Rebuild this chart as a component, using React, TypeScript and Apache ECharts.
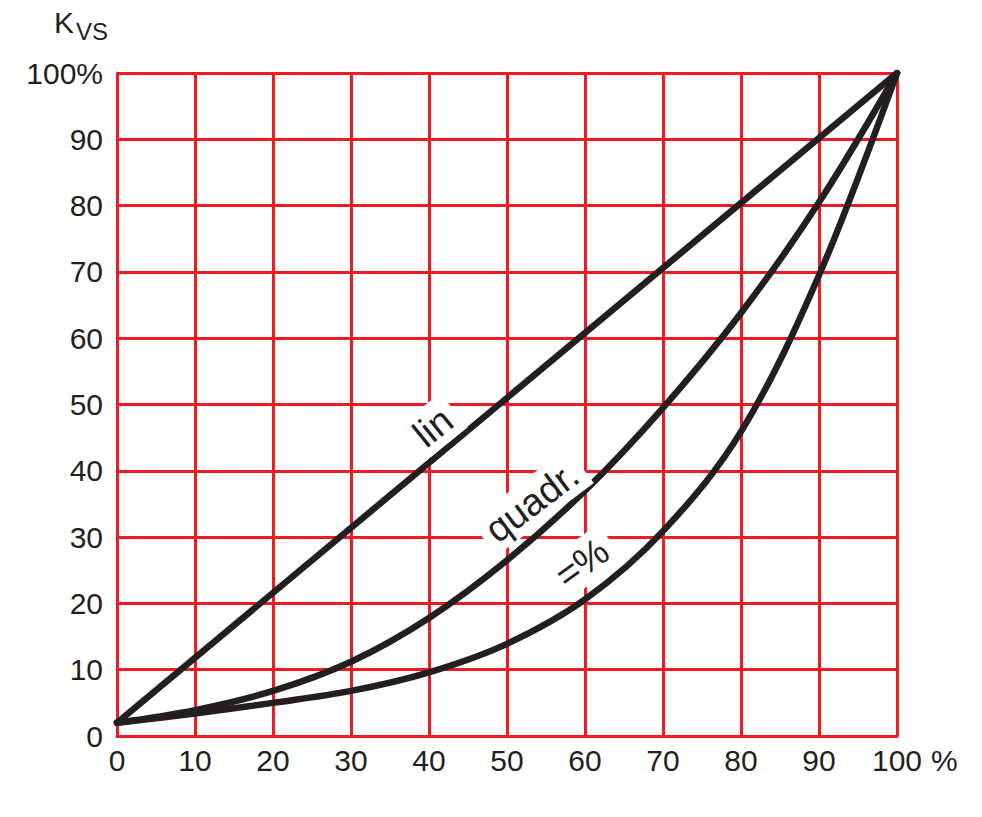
import React, { useEffect, useRef } from "react";
import * as echarts from "echarts";

const xTicks = [0, 10, 20, 30, 40, 50, 60, 70, 80, 90, 100];
const linValues = [2, 100];
const linX = [0, 100];
const quadrValues = [2, 3.9, 6.8, 11.2, 17.8, 26.5, 37, 49.5, 63.8, 80.5, 100];
const equalPctValues = [2, 3.4, 5.0, 6.8, 9.6, 13.9, 20.6, 30.9, 45.9, 69.5, 100];
const curveLabels = [
  { name: "lin", x: 40.5, y: 46.6, rotate: 39 },
  { name: "quadr.", x: 53.2, y: 35.3, rotate: 37 },
  { name: "=%", x: 59.6, y: 26.1, rotate: 36 },
];

const RED = "#ed1c24";
const INK = "#231f20";
const FONT = "'Liberation Sans', Arial, Helvetica, sans-serif";

export default function App() {
  const ref = useRef<HTMLDivElement>(null);
  useEffect(() => {
    document.body.style.margin = "0";
    const chart = echarts.init(ref.current!, null, { renderer: "svg" });
    const lineStyle = { color: INK, width: 6.5, cap: "round" as const, join: "round" as const };
    chart.setOption({
      animation: false,
      backgroundColor: "#ffffff",
      grid: { left: 117, right: 85, top: 73, bottom: 81 },
      xAxis: {
        type: "value",
        min: 0,
        max: 100,
        interval: 10,
        axisLine: { show: true, lineStyle: { color: RED, width: 3 } },
        axisTick: { show: false },
        splitLine: { show: true, lineStyle: { color: RED, width: 3 } },
        axisLabel: { color: INK, fontSize: 30, fontFamily: FONT, margin: 9 },
      },
      yAxis: {
        type: "value",
        min: 0,
        max: 100,
        interval: 10,
        axisLine: { show: true, lineStyle: { color: RED, width: 3 } },
        axisTick: { show: false },
        splitLine: { show: true, lineStyle: { color: RED, width: 3 } },
        axisLabel: {
          color: INK,
          fontSize: 30,
          fontFamily: FONT,
          margin: 14,
          formatter: (v: number) => (v === 100 ? "100%" : String(v)),
        },
      },
      graphic: [
        { type: "text", x: 931, y: 760, style: { text: "%", fill: INK, fontSize: 30, fontFamily: FONT, verticalAlign: "middle", align: "left" } },
        { type: "text", x: 54, y: 22.5, style: { text: "K", fill: INK, fontSize: 30, fontFamily: FONT, verticalAlign: "middle", align: "left" } },
        { type: "text", x: 76, y: 31.5, style: { text: "VS", fill: INK, fontSize: 24, fontFamily: FONT, verticalAlign: "middle", align: "left" } },
      ],
      series: [
        {
          type: "scatter",
          z: 1,
          data: [],
          symbolSize: 0,
          markPoint: {
            symbol: "circle",
            symbolSize: 0,
            data: curveLabels.map((l) => ({
              name: l.name,
              coord: [l.x, l.y],
              label: {
                show: true,
                formatter: l.name,
                position: "inside",
                rotate: l.rotate,
                color: INK,
                fontSize: 38,
                fontFamily: FONT,
                backgroundColor: "#ffffff",
                padding: [3, 8, 3, 8],
              },
            })),
          },
        },
        {
          type: "line",
          name: "lin",
          z: 3,
          data: linX.map((x, i) => [x, linValues[i]]),
          showSymbol: false,
          symbol: "none",
          lineStyle,
        },
        {
          type: "line",
          name: "quadr.",
          z: 3,
          data: xTicks.map((x, i) => [x, quadrValues[i]]),
          smooth: 0.35,
          symbol: "none",
          lineStyle,
        },
        {
          type: "line",
          name: "=%",
          z: 3,
          data: xTicks.map((x, i) => [x, equalPctValues[i]]),
          smooth: 0.35,
          symbol: "none",
          lineStyle,
        },
      ],
    });
    return () => chart.dispose();
  }, []);
  return <div ref={ref} style={{ width: 982, height: 817 }} />;
}
